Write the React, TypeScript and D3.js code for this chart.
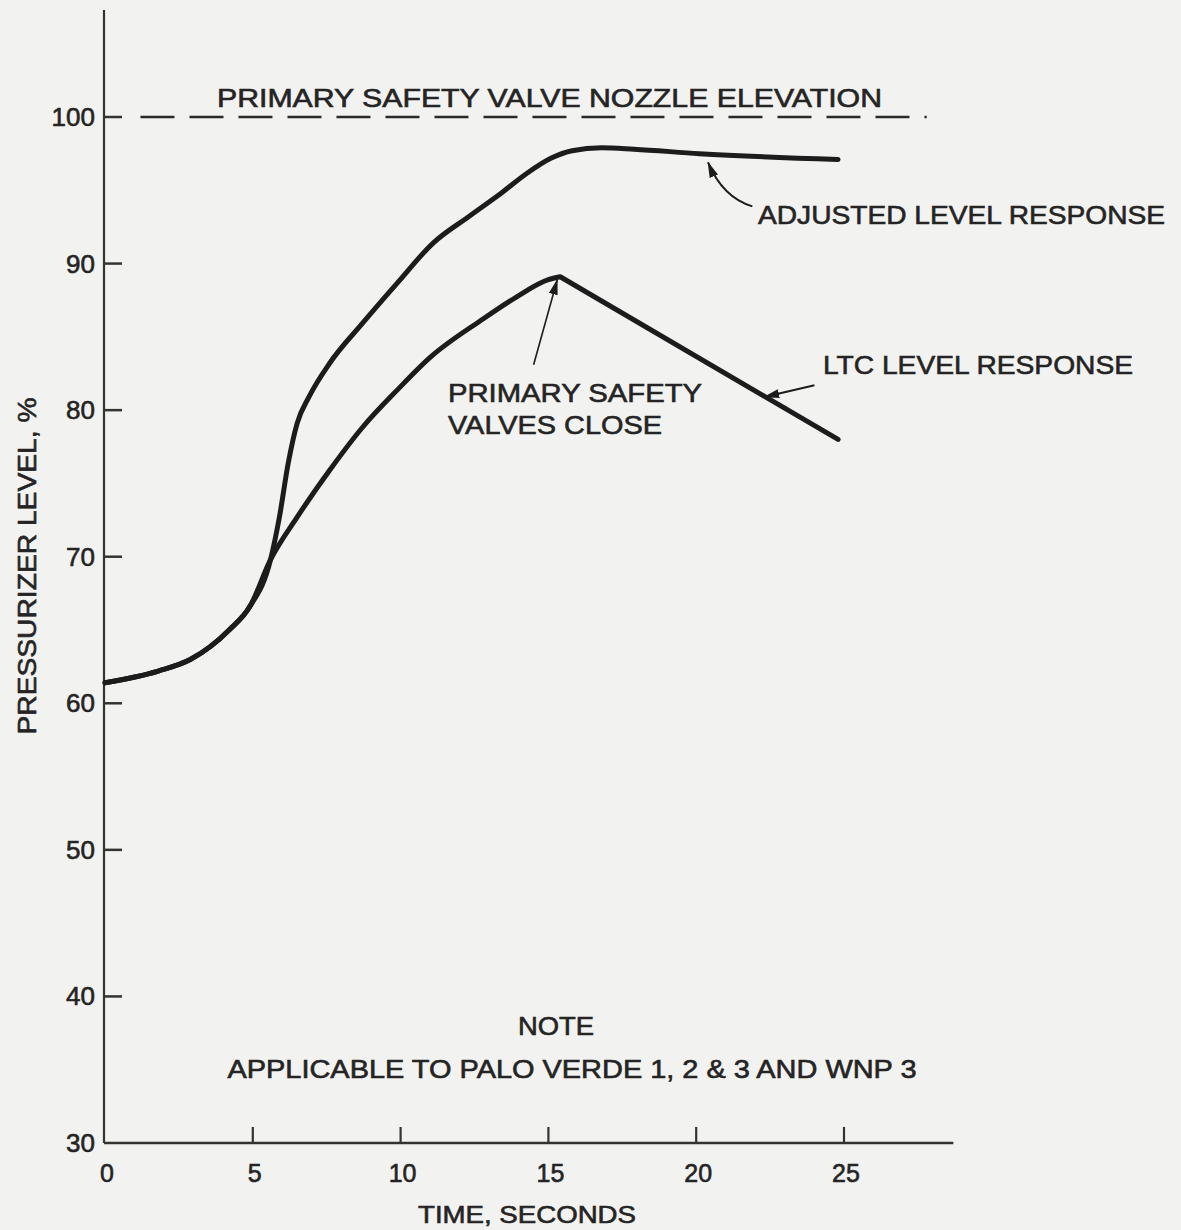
import { useMemo } from 'react';
import * as d3 from 'd3';

// values
const adjustedTime = [0, 1.8, 2.9, 4.2, 4.9, 5.6, 5.9, 6.2, 6.5, 6.9, 7.6, 8.7, 9.9, 11.1, 12.3, 13.4, 14.3, 15.1, 15.8, 16.8, 17.9, 20.1, 24.8];
const adjustedLevel = [61.4, 62.2, 63.0, 65.0, 66.6, 69.8, 72.7, 76.4, 79.1, 80.9, 83.2, 85.9, 88.7, 91.4, 93.2, 94.8, 96.2, 97.2, 97.7, 97.9, 97.8, 97.5, 97.1];

// LTC rise up to the valve-closing peak, then a straight fall
const ltcRiseTime = [0, 1.8, 2.9, 4.2, 4.9, 5.6, 6.5, 7.6, 8.7, 9.9, 11.0, 12.7, 13.9, 15.0, 15.4];
const ltcRiseLevel = [61.4, 62.2, 63.0, 65.0, 66.6, 69.8, 72.7, 75.9, 78.8, 81.4, 83.6, 86.1, 87.7, 88.9, 89.1];
const ltcFallTime = [15.4, 24.8];
const ltcFallLevel = [89.1, 78.0];

const xTicks = [0, 5, 10, 15, 20, 25];
const yTicks = [30, 40, 50, 60, 70, 80, 90, 100];

const nozzleLevel = 100;
const nozzleSpan = [1.2, 27.8];

const W = 1181,
  H = 1230;
const INK = '#1c1c1c';
const FONT = '"Liberation Sans", Arial, sans-serif';

export default function App() {
  const x = useMemo(() => d3.scaleLinear().domain([0, 25]).range([105, 844]), []);
  const y = useMemo(() => d3.scaleLinear().domain([30, 100]).range([1143, 117]), []);

  const smooth = d3
    .line<[number, number]>()
    .x(d => x(d[0]))
    .y(d => y(d[1]))
    .curve(d3.curveMonotoneX);
  const straight = d3
    .line<[number, number]>()
    .x(d => x(d[0]))
    .y(d => y(d[1]));

  const adjusted = smooth(adjustedTime.map((t, i) => [t, adjustedLevel[i]]));
  const ltcRise = smooth(ltcRiseTime.map((t, i) => [t, ltcRiseLevel[i]])) ?? '';
  const ltcFall = straight(ltcFallTime.map((t, i) => [t, ltcFallLevel[i]])) ?? '';
  const ltc = ltcRise + ltcFall.replace(/^M/, 'L');

  const x0 = x(0),
    y0 = y(30);
  const xEnd = x(28.7);
  const yTop = y(107.3);

  const txt = { fontFamily: FONT, fill: '#242424', stroke: '#242424', strokeWidth: 0.6 };

  return (
    <div style={{ position: 'absolute', left: 0, top: 0 }}>
      <svg width={W} height={H} style={{ display: 'block', background: '#f2f2f0' }}>
        <defs>
          <marker id="head" viewBox="0 0 16 9" refX="15" refY="4.5" markerWidth="16" markerHeight="9" markerUnits="userSpaceOnUse" orient="auto">
            <path d="M0,0 L16,4.5 L0,9 Z" fill={INK} />
          </marker>
        </defs>

        {/* axes */}
        <line x1={x0 - 1} y1={yTop} x2={x0 - 1} y2={y0} stroke="#333" strokeWidth={2.2} />
        <line x1={x0 - 1} y1={y0} x2={xEnd} y2={y0} stroke="#333" strokeWidth={2.5} />

        {yTicks.map(v => (
          <g key={v}>
            {v > 30 && <line x1={x0 - 1} x2={x0 + 17} y1={y(v)} y2={y(v)} stroke="#333" strokeWidth={2.5} />}
            <text x={x0 - 10} y={y(v) + 9} textAnchor="end" fontSize={26} {...txt}>
              {v}
            </text>
          </g>
        ))}

        {xTicks.map(t => (
          <g key={t}>
            {t > 0 && <line x1={x(t)} x2={x(t)} y1={y0} y2={y0 - 16} stroke="#333" strokeWidth={2.2} />}
            <text x={x(t) + 2} y={1182} textAnchor="middle" fontSize={25} {...txt}>
              {t}
            </text>
          </g>
        ))}

        <text x={527} y={1223} textAnchor="middle" fontSize={24} {...txt} textLength={218} lengthAdjust="spacingAndGlyphs">
          TIME, SECONDS
        </text>
        <text transform={`translate(36,566) rotate(-90)`} textAnchor="middle" fontSize={25} {...txt} textLength={337} lengthAdjust="spacingAndGlyphs">
          PRESSURIZER LEVEL, %
        </text>

        {/* nozzle elevation */}
        <line
          x1={x(nozzleSpan[0])}
          x2={x(nozzleSpan[1])}
          y1={y(nozzleLevel)}
          y2={y(nozzleLevel)}
          stroke="#2a2a2a"
          strokeWidth={2.5}
          strokeDasharray="34 15"
        />
        <text x={217} y={107} fontSize={25} {...txt} textLength={665} lengthAdjust="spacingAndGlyphs">
          PRIMARY SAFETY VALVE NOZZLE ELEVATION
        </text>

        {/* curves */}
        <path d={ltc} fill="none" stroke={INK} strokeWidth={5} strokeLinejoin="round" strokeLinecap="round" />
        <path d={adjusted ?? ''} fill="none" stroke={INK} strokeWidth={5} strokeLinejoin="round" strokeLinecap="round" />

        {/* annotations */}
        <path
          d={`M${x(21.9)},${y(93.9)} Q${x(20.9)},${y(94.5)} ${x(20.4)},${y(96.9)}`}
          fill="none"
          stroke={INK}
          strokeWidth={2}
          markerEnd="url(#head)"
        />
        <text x={758} y={224} fontSize={26} {...txt} textLength={407} lengthAdjust="spacingAndGlyphs">
          ADJUSTED LEVEL RESPONSE
        </text>

        <line x1={x(24.0)} y1={y(81.7)} x2={x(22.3)} y2={y(80.9)} stroke={INK} strokeWidth={2} markerEnd="url(#head)" />
        <text x={823} y={374} fontSize={26} {...txt} textLength={310} lengthAdjust="spacingAndGlyphs">
          LTC LEVEL RESPONSE
        </text>

        <line x1={x(14.5)} y1={y(83.1)} x2={x(15.3)} y2={y(88.9)} stroke={INK} strokeWidth={1.6} markerEnd="url(#head)" />
        <text fontSize={26} {...txt}>
          <tspan x={448} y={402} textLength={254} lengthAdjust="spacingAndGlyphs">
            PRIMARY SAFETY
          </tspan>
          <tspan x={448} y={434} textLength={214} lengthAdjust="spacingAndGlyphs">
            VALVES CLOSE
          </tspan>
        </text>

        <text x={556} y={1035} textAnchor="middle" fontSize={25} {...txt} textLength={76} lengthAdjust="spacingAndGlyphs">
          NOTE
        </text>
        <text x={572} y={1078} textAnchor="middle" fontSize={25} {...txt} textLength={689} lengthAdjust="spacingAndGlyphs">
          APPLICABLE TO PALO VERDE 1, 2 &amp; 3 AND WNP 3
        </text>
      </svg>
    </div>
  );
}
